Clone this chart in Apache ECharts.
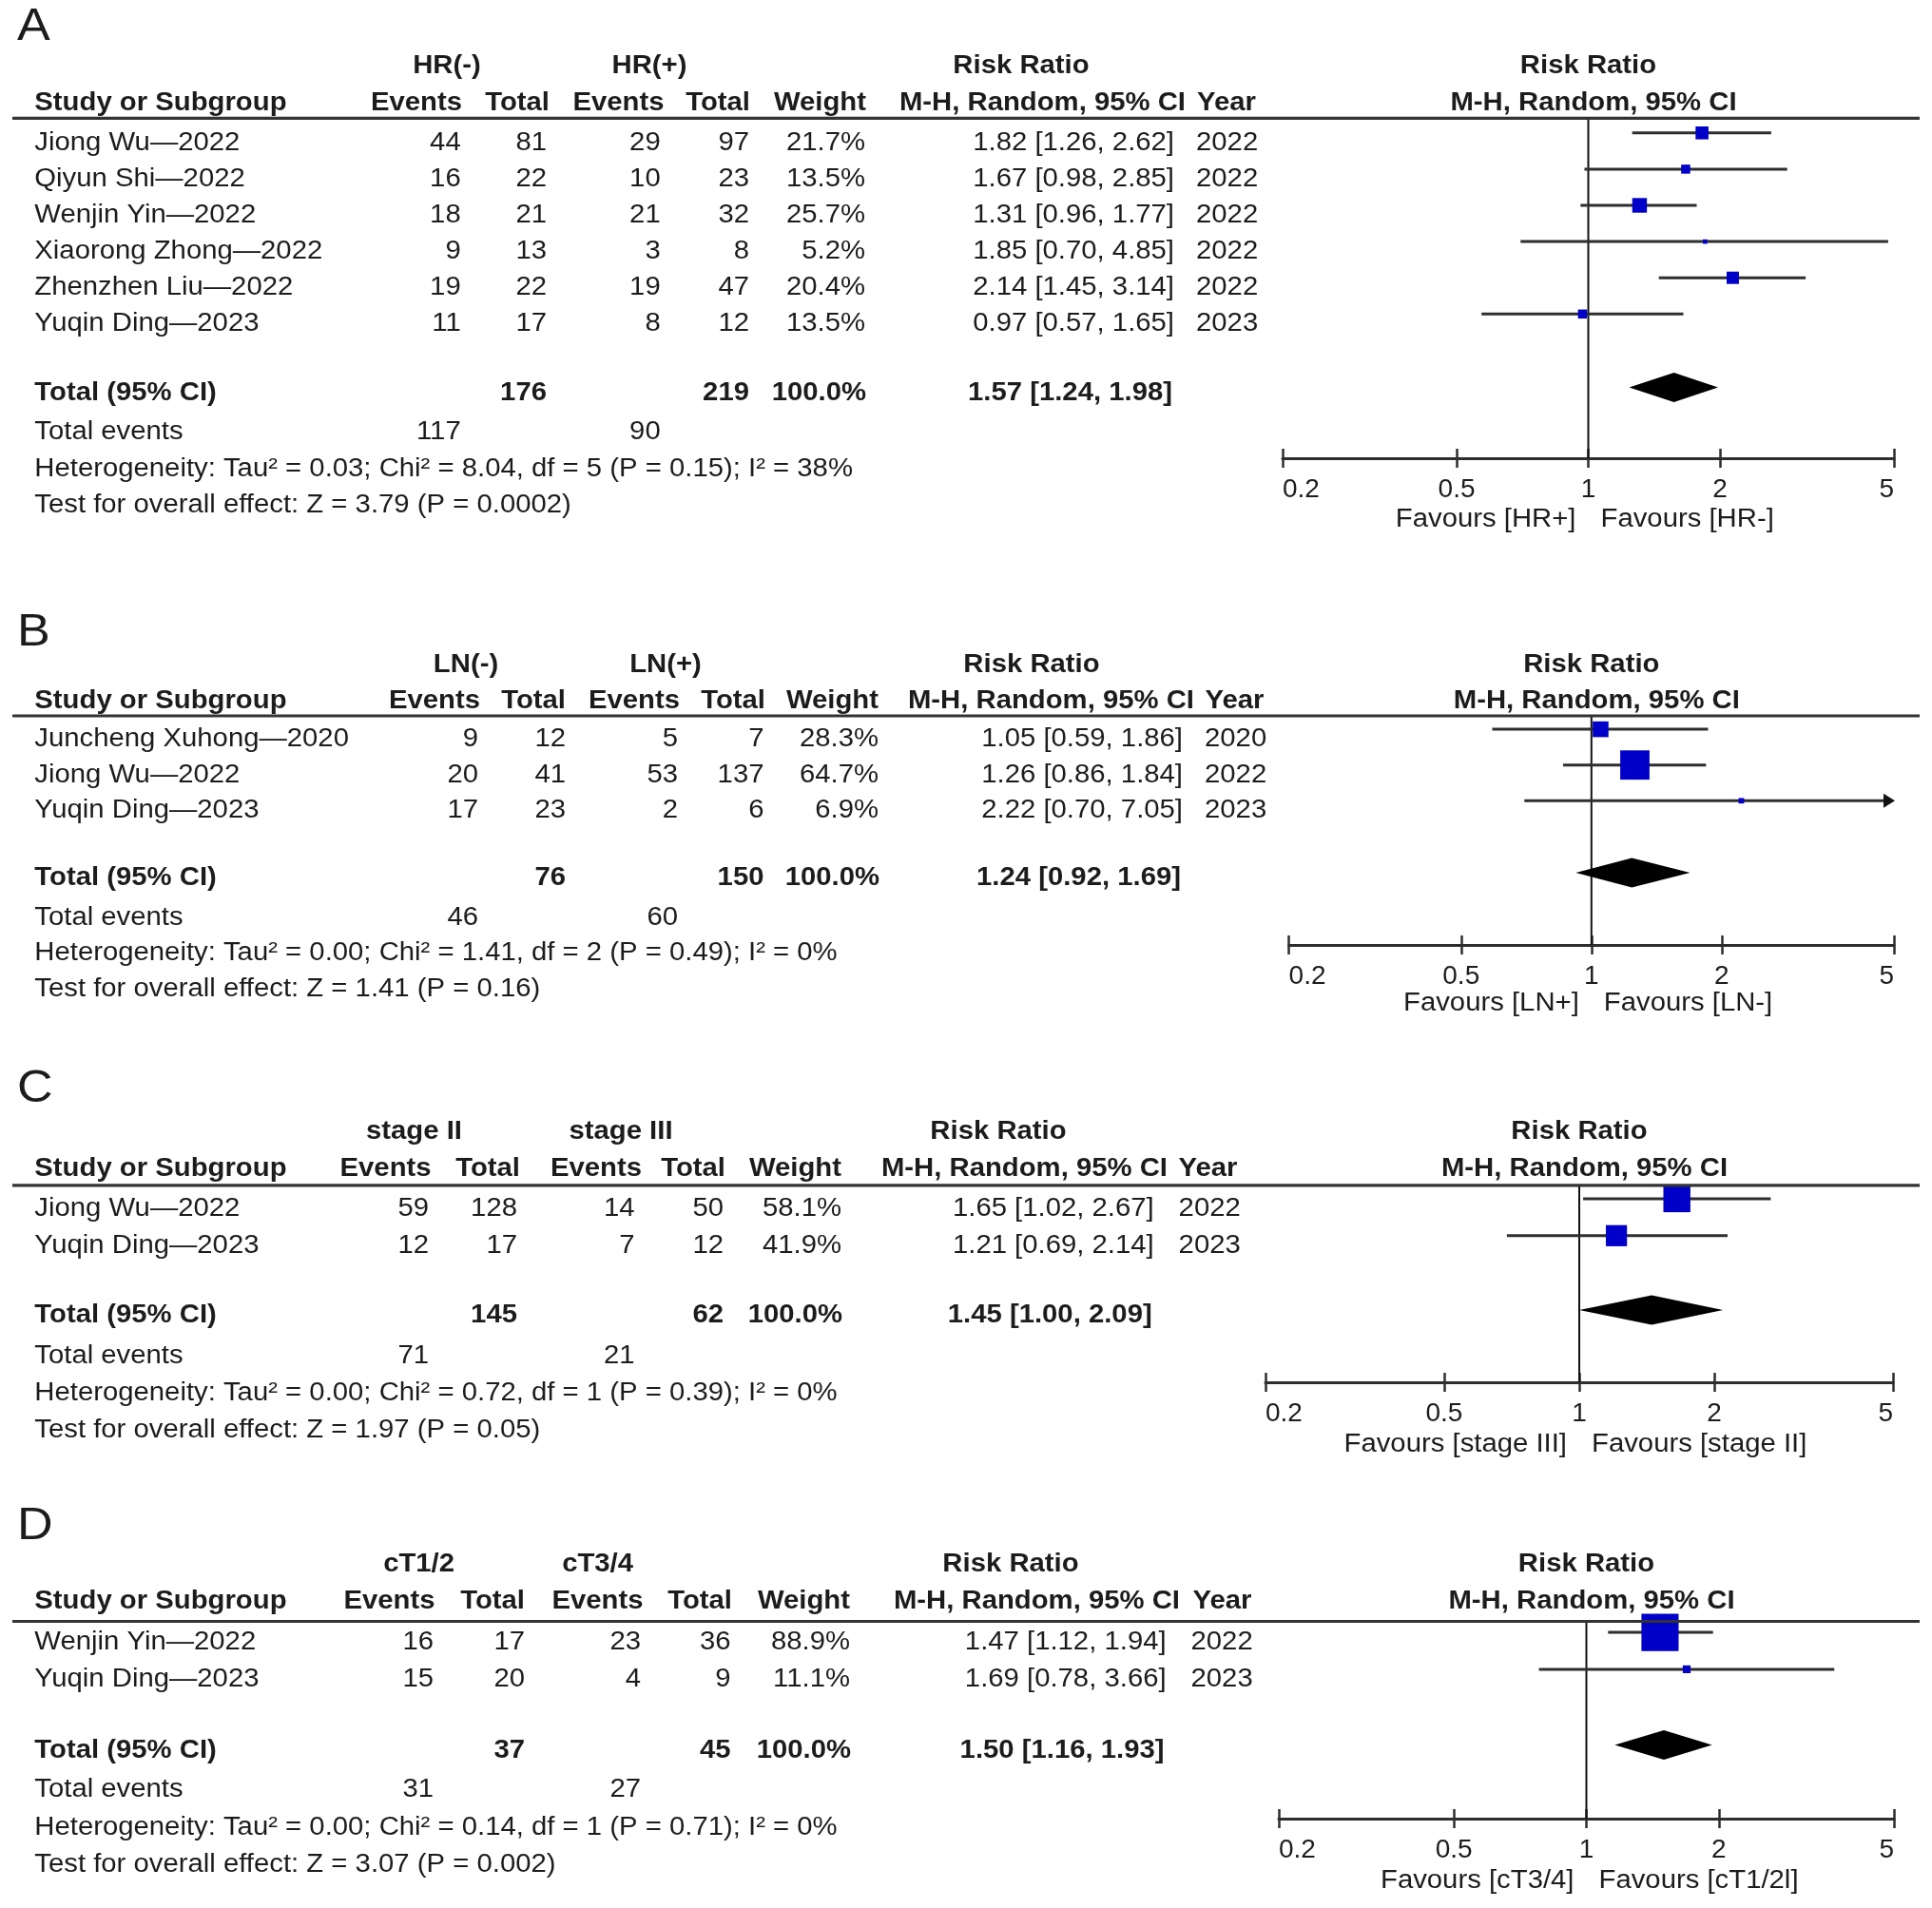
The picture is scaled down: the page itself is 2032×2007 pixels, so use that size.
<!DOCTYPE html>
<html>
<head>
<meta charset="utf-8">
<script src="https://cdn.jsdelivr.net/npm/echarts@6/dist/echarts.min.js"></script>
<style>html,body{margin:0;padding:0;background:#fff;}#c{width:2032px;height:2007px;}</style>
</head>
<body>
<div id="c"></div>
<script>
// ---------------- DATA ----------------
const ticks = [0.2, 0.5, 1, 2, 5];
const letters = ['A', 'B', 'C', 'D'];

// Panel A
const A_groups = ['HR(-)', 'HR(+)'];
const A_studies = ['Jiong Wu\u20142022', 'Qiyun Shi\u20142022', 'Wenjin Yin\u20142022', 'Xiaorong Zhong\u20142022', 'Zhenzhen Liu\u20142022', 'Yuqin Ding\u20142023'];
const A_ev1 = [44, 16, 18, 9, 19, 11];
const A_tot1 = [81, 22, 21, 13, 22, 17];
const A_ev2 = [29, 10, 21, 3, 19, 8];
const A_tot2 = [97, 23, 32, 8, 47, 12];
const A_weight = [21.7, 13.5, 25.7, 5.2, 20.4, 13.5];
const A_rr = [1.82, 1.67, 1.31, 1.85, 2.14, 0.97];
const A_lo = [1.26, 0.98, 0.96, 0.70, 1.45, 0.57];
const A_hi = [2.62, 2.85, 1.77, 4.85, 3.14, 1.65];
const A_year = [2022, 2022, 2022, 2022, 2022, 2023];
const A_totals = [176, 219];
const A_totalEvents = [117, 90];
const A_pooled = [1.57, 1.24, 1.98];
const A_stats = ['Heterogeneity: Tau\u00b2 = 0.03; Chi\u00b2 = 8.04, df = 5 (P = 0.15); I\u00b2 = 38%', 'Test for overall effect: Z = 3.79 (P = 0.0002)'];
const A_favours = ['Favours [HR+]', 'Favours [HR-]'];

// Panel B
const B_groups = ['LN(-)', 'LN(+)'];
const B_studies = ['Juncheng Xuhong\u20142020', 'Jiong Wu\u20142022', 'Yuqin Ding\u20142023'];
const B_ev1 = [9, 20, 17];
const B_tot1 = [12, 41, 23];
const B_ev2 = [5, 53, 2];
const B_tot2 = [7, 137, 6];
const B_weight = [28.3, 64.7, 6.9];
const B_rr = [1.05, 1.26, 2.22];
const B_lo = [0.59, 0.86, 0.70];
const B_hi = [1.86, 1.84, 7.05];
const B_year = [2020, 2022, 2023];
const B_totals = [76, 150];
const B_totalEvents = [46, 60];
const B_pooled = [1.24, 0.92, 1.69];
const B_stats = ['Heterogeneity: Tau\u00b2 = 0.00; Chi\u00b2 = 1.41, df = 2 (P = 0.49); I\u00b2 = 0%', 'Test for overall effect: Z = 1.41 (P = 0.16)'];
const B_favours = ['Favours [LN+]', 'Favours [LN-]'];

// Panel C
const C_groups = ['stage II', 'stage III'];
const C_studies = ['Jiong Wu\u20142022', 'Yuqin Ding\u20142023'];
const C_ev1 = [59, 12];
const C_tot1 = [128, 17];
const C_ev2 = [14, 7];
const C_tot2 = [50, 12];
const C_weight = [58.1, 41.9];
const C_rr = [1.65, 1.21];
const C_lo = [1.02, 0.69];
const C_hi = [2.67, 2.14];
const C_year = [2022, 2023];
const C_totals = [145, 62];
const C_totalEvents = [71, 21];
const C_pooled = [1.45, 1.00, 2.09];
const C_stats = ['Heterogeneity: Tau\u00b2 = 0.00; Chi\u00b2 = 0.72, df = 1 (P = 0.39); I\u00b2 = 0%', 'Test for overall effect: Z = 1.97 (P = 0.05)'];
const C_favours = ['Favours [stage III]', 'Favours [stage II]'];

// Panel D
const D_groups = ['cT1/2', 'cT3/4'];
const D_studies = ['Wenjin Yin\u20142022', 'Yuqin Ding\u20142023'];
const D_ev1 = [16, 15];
const D_tot1 = [17, 20];
const D_ev2 = [23, 4];
const D_tot2 = [36, 9];
const D_weight = [88.9, 11.1];
const D_rr = [1.47, 1.69];
const D_lo = [1.12, 0.78];
const D_hi = [1.94, 3.66];
const D_year = [2022, 2023];
const D_totals = [37, 45];
const D_totalEvents = [31, 27];
const D_pooled = [1.50, 1.16, 1.93];
const D_stats = ['Heterogeneity: Tau\u00b2 = 0.00; Chi\u00b2 = 0.14, df = 1 (P = 0.71); I\u00b2 = 0%', 'Test for overall effect: Z = 3.07 (P = 0.002)'];
const D_favours = ['Favours [cT3/4]', 'Favours [cT1/2l]'];

const panels = [
  {groups: A_groups, studies: A_studies, ev1: A_ev1, tot1: A_tot1, ev2: A_ev2, tot2: A_tot2, weight: A_weight, rr: A_rr, lo: A_lo, hi: A_hi, year: A_year, totals: A_totals, totalEvents: A_totalEvents, pooled: A_pooled, stats: A_stats, favours: A_favours},
  {groups: B_groups, studies: B_studies, ev1: B_ev1, tot1: B_tot1, ev2: B_ev2, tot2: B_tot2, weight: B_weight, rr: B_rr, lo: B_lo, hi: B_hi, year: B_year, totals: B_totals, totalEvents: B_totalEvents, pooled: B_pooled, stats: B_stats, favours: B_favours},
  {groups: C_groups, studies: C_studies, ev1: C_ev1, tot1: C_tot1, ev2: C_ev2, tot2: C_tot2, weight: C_weight, rr: C_rr, lo: C_lo, hi: C_hi, year: C_year, totals: C_totals, totalEvents: C_totalEvents, pooled: C_pooled, stats: C_stats, favours: C_favours},
  {groups: D_groups, studies: D_studies, ev1: D_ev1, tot1: D_tot1, ev2: D_ev2, tot2: D_tot2, weight: D_weight, rr: D_rr, lo: D_lo, hi: D_hi, year: D_year, totals: D_totals, totalEvents: D_totalEvents, pooled: D_pooled, stats: D_stats, favours: D_favours}
];

// ---------------- LAYOUT ----------------
const LAY = [
  {letterY: 29, h1Y: 70, h2Y: 109, lineY: 124.4, row0: 150.3, step: 38.1, totalY: 413.4, totEvY: 455, hetY: 494, testY: 531.5, axisY: 482, favY: 547, x0: 1349, x1: 1992,
   hG1: 470, hG2: 683, hRR: 1074, hE1: 486, hT1: 578, hE2: 698.5, hT2: 789, hW: 911, hMH: 1247, hYear: 1259,
   vE1: 484.7, vT1: 575, vE2: 694.7, vT2: 788, vW: 910, vCI: 1235, vYear: 1258},
  {letterY: 666, h1Y: 700, h2Y: 737.4, lineY: 753, row0: 777.6, step: 37.6, totalY: 924, totEvY: 965.5, hetY: 1003, testY: 1040.7, axisY: 994, favY: 1056, x0: 1355.6, x1: 1992,
   hG1: 490, hG2: 700, hRR: 1085, hE1: 505, hT1: 595, hE2: 715, hT2: 805, hW: 924, hMH: 1256, hYear: 1267.5,
   vE1: 503, vT1: 595, vE2: 713, vT2: 803.5, vW: 924, vCI: 1244, vYear: 1267},
  {letterY: 1146, h1Y: 1191, h2Y: 1230, lineY: 1246.8, row0: 1271.4, step: 38.9, totalY: 1384, totEvY: 1427, hetY: 1465.8, testY: 1504.7, axisY: 1454, favY: 1520, x0: 1331, x1: 1991,
   hG1: 435.5, hG2: 653, hRR: 1050, hE1: 453.6, hT1: 547, hE2: 675, hT2: 763, hW: 885, hMH: 1228, hYear: 1239.6,
   vE1: 451, vT1: 544, vE2: 667.5, vT2: 761, vW: 885, vCI: 1213.7, vYear: 1239.6},
  {letterY: 1606, h1Y: 1646, h2Y: 1684.8, lineY: 1705.5, row0: 1727.6, step: 38.8, totalY: 1841.6, totEvY: 1883, hetY: 1923, testY: 1962, axisY: 1913, favY: 1979, x0: 1345, x1: 1992,
   hG1: 440.6, hG2: 628.6, hRR: 1063, hE1: 457.5, hT1: 552, hE2: 676.5, hT2: 770, hW: 894, hMH: 1241, hYear: 1254.5,
   vE1: 456, vT1: 552, vE2: 674, vT2: 768.5, vW: 894, vCI: 1226.6, vYear: 1252.5}
];
const NAME_X = 36.3, LETTER_X = 18;
const FONT = '"Liberation Sans", Arial, Helvetica, sans-serif';
const TXT = '#1c1c1c';
const LINE = '#2e2e2e';
const SQ = '#0000c8';
const SX = 1.085;   // horizontal stretch of the original rendering
const FS = 27;
const MARK_DY = -10.5; // marks sit a little above the text centre
const DIAMOND_DY = -6;

const chart = echarts.init(document.getElementById('c'), null, {renderer: 'canvas'});

function fmt2(v) { return v.toFixed(2); }
function ciText(r, l, h) { return fmt2(r) + ' [' + fmt2(l) + ', ' + fmt2(h) + ']'; }

const grids = [], xAxes = [], yAxes = [], series = [];
panels.forEach((P, p) => {
  const L = LAY[p];
  const gh = L.axisY - L.lineY;
  grids.push({left: L.x0, top: L.lineY, width: L.x1 - L.x0, height: gh, containLabel: false});
  const base = {type: 'log', logBase: 10, gridIndex: p, min: 0.2, max: 5, splitLine: {show: false}, minorTick: {show: false}, minorSplitLine: {show: false}};
  // main axis: line, downward ticks, labels
  xAxes.push(Object.assign({}, base, {
    position: 'bottom',
    axisLine: {show: true, onZero: false, lineStyle: {color: LINE, width: 3}},
    axisTick: {show: true, customValues: ticks, length: 10, inside: false, lineStyle: {color: LINE, width: 2.5}},
    axisLabel: {show: true, customValues: ticks, margin: 19, fontSize: 28, fontFamily: FONT, color: TXT,
      formatter: v => String(parseFloat(Number(v).toPrecision(6))), alignMinLabel: 'left', alignMaxLabel: 'right', showMinLabel: true, showMaxLabel: true}
  }));
  // companion axis: drawn at the same baseline, provides the upward half of the ticks
  xAxes.push(Object.assign({}, base, {
    position: 'top', offset: -gh,
    axisLine: {show: false, onZero: false},
    axisTick: {show: true, customValues: ticks, length: 10, inside: false, lineStyle: {color: LINE, width: 2.5}},
    axisLabel: {show: false}
  }));
  yAxes.push({type: 'value', gridIndex: p, inverse: true, min: 0, max: gh, show: false});

  // null line at RR = 1
  series.push({
    type: 'custom', xAxisIndex: 2 * p, yAxisIndex: p, silent: true, z: 2,
    data: [[1, 0]],
    renderItem: (params, api) => {
      const a = api.coord([api.value(0), 0]);
      const b = api.coord([api.value(0), gh]);
      return {type: 'line', shape: {x1: a[0], y1: a[1], x2: b[0], y2: b[1]}, style: {stroke: '#111', lineWidth: 2}};
    }
  });

  // individual studies
  series.push({
    type: 'custom', xAxisIndex: 2 * p, yAxisIndex: p, silent: true, z: 3, clip: false,
    data: P.rr.map((v, i) => [v, P.lo[i], P.hi[i], P.weight[i], i]),
    encode: {x: 0, y: 4},
    renderItem: (params, api) => {
      const rr = api.value(0), lo = api.value(1), hi = api.value(2), w = api.value(3), idx = api.value(4);
      const yv = L.row0 - L.lineY + idx * L.step + MARK_DY;
      const c = api.coord([rr, yv]);
      const a = api.coord([Math.max(lo, 0.2), yv]);
      const b = api.coord([Math.min(hi, 5), yv]);
      const children = [];
      const arrow = hi > 5;
      children.push({type: 'line', shape: {x1: a[0], y1: a[1], x2: arrow ? b[0] - 8 : b[0], y2: b[1]}, style: {stroke: LINE, lineWidth: 3}});
      if (arrow) {
        children.push({type: 'polygon', shape: {points: [[b[0] + 1, b[1]], [b[0] - 11, b[1] - 7.5], [b[0] - 11, b[1] + 7.5]]}, style: {fill: '#111'}});
      }
      const s = 1.35 * Math.pow(w, 0.75);
      children.push({type: 'rect', shape: {x: c[0] - s / 2, y: c[1] - s / 2, width: s, height: s}, style: {fill: SQ}});
      return {type: 'group', children};
    }
  });

  // pooled diamond
  series.push({
    type: 'custom', xAxisIndex: 2 * p, yAxisIndex: p, silent: true, z: 3, clip: false,
    data: [[P.pooled[0], P.pooled[1], P.pooled[2]]],
    encode: {x: 0},
    renderItem: (params, api) => {
      const yv = L.totalY - L.lineY + DIAMOND_DY;
      const c = api.coord([api.value(0), yv]);
      const a = api.coord([api.value(1), yv]);
      const b = api.coord([api.value(2), yv]);
      const h = 15.5;
      return {type: 'polygon', shape: {points: [[a[0], a[1]], [c[0], c[1] - h], [b[0], b[1]], [c[0], c[1] + h]]}, style: {fill: '#000'}};
    }
  });
});

chart.setOption({
  animation: false,
  backgroundColor: '#fff',
  grid: grids, xAxis: xAxes, yAxis: yAxes, series: series
});

// ---------------- TEXT (table) ----------------
function txt(x, y, s, align, bold, size) {
  return {type: 'text', x: x, y: y, scaleX: SX, silent: true, z: 10,
    style: {text: String(s), x: 0, y: 0, textAlign: align, align: align, textVerticalAlign: 'middle', verticalAlign: 'middle',
      fontSize: size || FS, fontWeight: bold ? 'bold' : 'normal', fontFamily: FONT, fill: TXT}};
}
const g = [];
panels.forEach((P, p) => {
  const L = LAY[p];
  const x1 = chart.convertToPixel({xAxisIndex: 2 * p}, 1);
  g.push({type: 'line', silent: true, shape: {x1: 13, y1: L.lineY, x2: 2019, y2: L.lineY}, style: {stroke: '#333', lineWidth: 3.2}, z: 5});
  g.push(txt(LETTER_X, L.letterY, letters[p], 'left', false, 48));
  // header line 1
  g.push(txt(L.hG1, L.h1Y, P.groups[0], 'center', true));
  g.push(txt(L.hG2, L.h1Y, P.groups[1], 'center', true));
  g.push(txt(L.hRR, L.h1Y, 'Risk Ratio', 'center', true));
  g.push(txt(x1, L.h1Y, 'Risk Ratio', 'center', true));
  // header line 2
  g.push(txt(NAME_X, L.h2Y, 'Study or Subgroup', 'left', true));
  g.push(txt(L.hE1, L.h2Y, 'Events', 'right', true));
  g.push(txt(L.hT1, L.h2Y, 'Total', 'right', true));
  g.push(txt(L.hE2, L.h2Y, 'Events', 'right', true));
  g.push(txt(L.hT2, L.h2Y, 'Total', 'right', true));
  g.push(txt(L.hW, L.h2Y, 'Weight', 'right', true));
  g.push(txt(L.hMH, L.h2Y, 'M-H, Random, 95% CI', 'right', true));
  g.push(txt(L.hYear, L.h2Y, 'Year', 'left', true));
  g.push(txt(x1 + 5.5, L.h2Y, 'M-H, Random, 95% CI', 'center', true));
  // study rows
  P.studies.forEach((name, i) => {
    const y = L.row0 + i * L.step;
    g.push(txt(NAME_X, y, name, 'left', false));
    g.push(txt(L.vE1, y, P.ev1[i], 'right', false));
    g.push(txt(L.vT1, y, P.tot1[i], 'right', false));
    g.push(txt(L.vE2, y, P.ev2[i], 'right', false));
    g.push(txt(L.vT2, y, P.tot2[i], 'right', false));
    g.push(txt(L.vW, y, P.weight[i].toFixed(1) + '%', 'right', false));
    g.push(txt(L.vCI, y, ciText(P.rr[i], P.lo[i], P.hi[i]), 'right', false));
    g.push(txt(L.vYear, y, P.year[i], 'left', false));
  });
  // total row
  g.push(txt(NAME_X, L.totalY, 'Total (95% CI)', 'left', true));
  g.push(txt(L.vT1, L.totalY, P.totals[0], 'right', true));
  g.push(txt(L.vT2, L.totalY, P.totals[1], 'right', true));
  g.push(txt(L.vW + 1, L.totalY, '100.0%', 'right', true));
  g.push(txt(L.vCI - 2, L.totalY, ciText(P.pooled[0], P.pooled[1], P.pooled[2]), 'right', true));
  // total events
  g.push(txt(NAME_X, L.totEvY, 'Total events', 'left', false));
  g.push(txt(L.vE1, L.totEvY, P.totalEvents[0], 'right', false));
  g.push(txt(L.vE2, L.totEvY, P.totalEvents[1], 'right', false));
  // stats
  g.push(txt(NAME_X, L.hetY, P.stats[0], 'left', false));
  g.push(txt(NAME_X, L.testY, P.stats[1], 'left', false));
  // favours
  g.push(txt(x1 - 13, L.favY, P.favours[0], 'right', false));
  g.push(txt(x1 + 13, L.favY, P.favours[1], 'left', false));
});
chart.setOption({graphic: {elements: g}});
</script>
</body>
</html>
